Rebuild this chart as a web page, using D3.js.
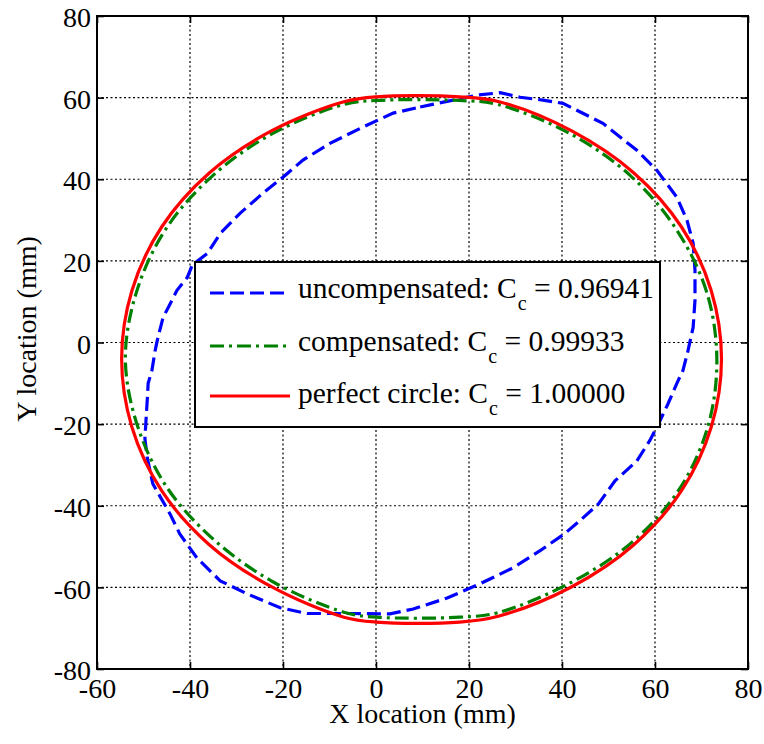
<!DOCTYPE html>
<html>
<head>
<meta charset="utf-8">
<script src="https://cdn.jsdelivr.net/npm/d3@7"></script>
<style>
  body { margin: 0; background: #fff; }
  svg text, svg tspan { font-family: "Liberation Serif", "Times New Roman", serif !important; fill: #000; }
</style>
</head>
<body>
<div id="chart"></div>
<script>
// tick values
var xTicks = [-60, -40, -20, 0, 20, 40, 60, 80];
var yTicks = [-80, -60, -40, -20, 0, 20, 40, 60, 80];

// uncompensated path
var uncompensated = [
  [9.5, 57.7], [16.6, 59.4], [21.7, 60.6], [26.7, 61.2], [31, 60.1], [35.9, 59.4],
  [40.2, 58.6], [48.8, 53.7], [56.1, 47.1], [60.4, 42.2], [64.7, 35.6], [66.9, 29.9],
  [68.2, 24.3], [68.6, 17.7], [68.6, 10.3], [68.2, 3.7], [67.1, -2], [66, -6.9],
  [64.7, -10], [62.8, -15], [61.1, -19.1], [58.9, -24], [56.1, -29], [51.4, -33.9],
  [47.8, -39.6], [43.5, -44], [40.5, -46.9], [35.3, -51], [29.5, -55.2], [22.4, -59.1],
  [15.3, -62.6], [8, -65.3], [3, -66.5], [-4.9, -66.4], [-14.8, -66.4], [-20.6, -65],
  [-27.7, -61.6], [-33.5, -58.4], [-38.5, -52.8], [-42.2, -46.9], [-44.3, -42],
  [-48, -34.6], [-49.2, -28.2], [-49.7, -23.5], [-49.2, -14.2], [-49, -10],
  [-48.2, -6.9], [-47.5, -2], [-46.9, 1.2], [-45.8, 6.1], [-43.9, 10.3], [-42.8, 12.8],
  [-40.6, 15.9], [-39.5, 19], [-36.3, 21.8], [-33.5, 26.7], [-29.2, 31.7], [-24.3, 36.6],
  [-20, 40.5], [-15.7, 44.7], [-9.9, 48.8], [-2.8, 52.8], [3.7, 56.2], [9.5, 57.7]
];

// compensated path
var compensated = [
  [73.3, -4], [71.1, 12.4], [64.6, 27.7], [54.7, 40.9], [41.7, 51.2], [26.3, 58.3],
  [18, 59.3], [0, 59.3], [-6.7, 58.4], [-22.1, 51.3], [-35.1, 40.9], [-45.2, 27.8],
  [-51.5, 12.4], [-53.9, -4], [-51.3, -20.4], [-44.9, -35.6], [-34.7, -48.5],
  [-21.9, -58.8], [-6.5, -66.2], [0, -67.3], [18, -67.3], [26.2, -66.2], [41.6, -59],
  [54.9, -49.1], [65.2, -36], [71.4, -20.5]
];

// perfect circle path
var perfectCircle = [
  [74.3, -4], [72.1, 12.7], [65.7, 28.3], [55.4, 41.6], [42.0, 51.9], [26.5, 59.0],
  [18, 60.2], [0, 60.2], [-6.9, 59.0], [-22.4, 51.9], [-35.8, 41.6], [-46.1, 28.3],
  [-52.5, 12.7], [-54.7, -4], [-52.5, -20.7], [-46.1, -36.3], [-35.8, -49.6],
  [-22.4, -59.9], [-6.9, -67.3], [0, -68.5], [18, -68.5], [26.5, -67.0], [42.0, -59.9],
  [55.4, -49.6], [65.7, -36.3], [72.1, -20.7]
];

var seriesNames = ["uncompensated", "compensated", "perfect circle"];
var ccValues = ["0.96941", "0.99933", "1.00000"];

var FONT = "'Liberation Serif', 'Times New Roman', serif";
var W = 764, H = 744;
var margin = {top: 16, right: 16, bottom: 75, left: 97};
var width = W - margin.left - margin.right,
    height = H - margin.top - margin.bottom;

var svg = d3.select("#chart").append("svg")
  .attr("width", W).attr("height", H)
  .style("font-family", FONT);

var g = svg.append("g").attr("transform", "translate(" + margin.left + "," + margin.top + ")");

var x = d3.scaleLinear().domain([-60, 80]).range([0, width]);
var y = d3.scaleLinear().domain([-80, 80]).range([height, 0]);

var fmt = function (d) { return String(d); };

// grid (dotted)
g.append("g").selectAll("line").data(xTicks).enter().append("line")
  .attr("x1", function (d) { return x(d); }).attr("x2", function (d) { return x(d); })
  .attr("y1", 0).attr("y2", height)
  .attr("stroke", "#000").attr("stroke-width", 1.2).attr("stroke-dasharray", "2,2.5");
g.append("g").selectAll("line").data(yTicks).enter().append("line")
  .attr("y1", function (d) { return y(d); }).attr("y2", function (d) { return y(d); })
  .attr("x1", 0).attr("x2", width)
  .attr("stroke", "#000").attr("stroke-width", 1.2).attr("stroke-dasharray", "2,2.5");

// curves
var line = d3.line()
  .x(function (d) { return x(d[0]); })
  .y(function (d) { return y(d[1]); });

var styles = [
  {color: "#0000ff", dash: "14,6"},
  {color: "#008000", dash: "14,5,3,5"},
  {color: "#ff0000", dash: null}
];

g.append("path").datum(uncompensated)
  .attr("d", line.curve(d3.curveLinear))
  .attr("fill", "none").attr("stroke", styles[0].color).attr("stroke-width", 3.2)
  .attr("stroke-dasharray", styles[0].dash);

g.append("path").datum(compensated)
  .attr("d", line.curve(d3.curveCatmullRomClosed))
  .attr("fill", "none").attr("stroke", styles[1].color).attr("stroke-width", 3.2)
  .attr("stroke-dasharray", styles[1].dash);

g.append("path").datum(perfectCircle)
  .attr("d", line.curve(d3.curveCatmullRomClosed))
  .attr("fill", "none").attr("stroke", styles[2].color).attr("stroke-width", 3.2);

// axes with inward ticks
var ax = g.append("g").attr("class", "axes");
ax.append("g").attr("transform", "translate(0," + height + ")")
  .call(d3.axisBottom(x).tickValues(xTicks).tickFormat(fmt).tickSizeInner(-7).tickSizeOuter(0).tickPadding(9));
ax.append("g")
  .call(d3.axisTop(x).tickValues(xTicks).tickFormat("").tickSizeInner(-7).tickSizeOuter(0));
ax.append("g")
  .call(d3.axisLeft(y).tickValues(yTicks).tickFormat(fmt).tickSizeInner(-7).tickSizeOuter(0).tickPadding(6));
ax.append("g").attr("transform", "translate(" + width + ",0)")
  .call(d3.axisRight(y).tickValues(yTicks).tickFormat("").tickSizeInner(-7).tickSizeOuter(0));

ax.selectAll("g").attr("font-family", null).attr("font-size", null);
ax.selectAll(".domain").remove();
ax.selectAll(".tick line").attr("stroke", "#000").attr("stroke-width", 1.6);
ax.selectAll(".tick text").style("font-size", "28px").style("font-family", FONT);
ax.selectAll(".tick text").filter(function () { return this.getAttribute("dy") === "0.32em"; })
  .attr("dy", "0.38em");

g.append("rect").attr("x", 0).attr("y", 0).attr("width", width).attr("height", height)
  .attr("fill", "none").attr("stroke", "#000").attr("stroke-width", 2);

// axis labels
svg.append("text")
  .attr("x", margin.left + width / 2).attr("y", 723)
  .attr("text-anchor", "middle").style("font-size", "28px").style("font-family", FONT)
  .text("X location (mm)");
svg.append("text")
  .attr("transform", "translate(36,329) rotate(-90)")
  .attr("text-anchor", "middle").style("font-size", "28px").style("font-family", FONT)
  .text("Y location (mm)");

// legend
var lg = svg.append("g");
lg.append("rect").attr("x", 195).attr("y", 262).attr("width", 465).attr("height", 165)
  .attr("fill", "#fff").attr("stroke", "#000").attr("stroke-width", 2);

var rowLine = [293, 346, 396], rowText = [298, 351, 403];
seriesNames.forEach(function (name, i) {
  var s = styles[i];
  lg.append("line").attr("x1", 210).attr("x2", 290)
    .attr("y1", rowLine[i]).attr("y2", rowLine[i])
    .attr("stroke", s.color).attr("stroke-width", 3.2)
    .attr("stroke-dasharray", s.dash);
  var t = lg.append("text").attr("x", 298).attr("y", rowText[i])
    .style("font-size", "29.5px").style("font-family", FONT);
  t.append("tspan").text(name + ": C");
  t.append("tspan").attr("dx", 1).attr("dy", 12).style("font-size", "20px").text("c");
  t.append("tspan").attr("dy", -12).text(" = " + ccValues[i]);
});
</script>
</body>
</html>
